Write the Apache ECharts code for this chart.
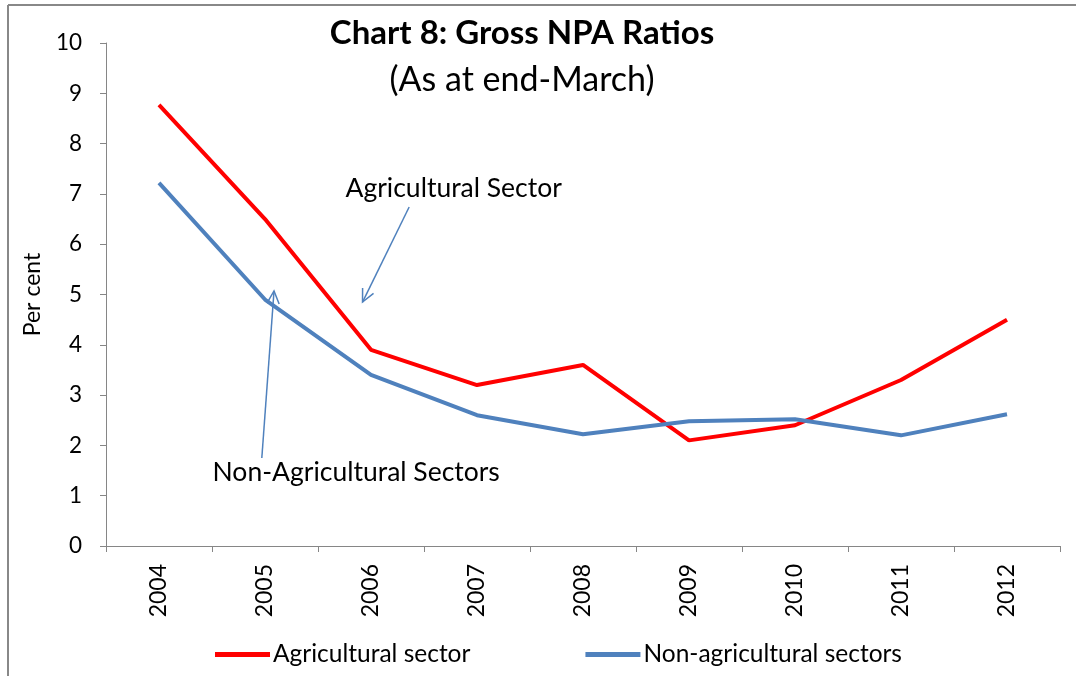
<!DOCTYPE html>
<html><head><meta charset="utf-8">
<script src="https://cdn.jsdelivr.net/npm/echarts@6/dist/echarts.min.js"></script>
<style>html,body{margin:0;padding:0;background:#fff;overflow:hidden}#c{width:1076px;height:676px}</style>
</head><body><div id="c"></div>
<script>
const years = ['2004','2005','2006','2007','2008','2009','2010','2011','2012'];
const agricultural = [8.77, 6.5, 3.9, 3.2, 3.6, 2.1, 2.4, 3.3, 4.5];
const nonAgricultural = [7.22, 4.9, 3.4, 2.6, 2.22, 2.48, 2.52, 2.2, 2.62];
const yTicks = [0,1,2,3,4,5,6,7,8,9,10];
// annotations in data coordinates [fractional category index, value]
const annotations = [
  {text:'Agricultural Sector', at:[2.78, 7.10], from:[2.36, 6.74], to:[1.92, 4.85]},
  {text:'Non-Agricultural Sectors', at:[1.86, 1.47], from:[0.97, 1.75], to:[1.085, 5.07]}
];
const FONT = 'Lato';
const chart = echarts.init(document.getElementById('c'));
chart.setOption({
  animation:false,
  backgroundColor:'#fff',
  textStyle:{fontFamily:FONT},
  title:{
    text:'Chart 8: Gross NPA Ratios',
    subtext:'(As at end-March)',
    left:522, top:15, textAlign:'center', itemGap:10, padding:0,
    textStyle:{fontFamily:FONT, fontWeight:'bold', fontSize:33, lineHeight:36, color:'#000'},
    subtextStyle:{fontFamily:FONT, fontSize:34, lineHeight:38, color:'#000'}
  },
  grid:{left:106, right:16, top:43, bottom:130, containLabel:false},
  xAxis:{
    type:'category', data:years, boundaryGap:true,
    axisLine:{lineStyle:{color:'#868686', width:1}},
    axisTick:{show:true, length:6, lineStyle:{color:'#868686'}},
    axisLabel:{rotate:90, margin:18, fontSize:23, color:'#000', fontFamily:FONT}
  },
  yAxis:{
    type:'value', min:yTicks[0], max:yTicks[yTicks.length-1], interval:1,
    name:'Per cent', nameLocation:'middle', nameGap:62, nameRotate:90,
    nameTextStyle:{fontSize:23, color:'#000', fontFamily:FONT},
    axisLine:{show:true, lineStyle:{color:'#868686'}},
    axisTick:{show:true, inside:false, length:6, lineStyle:{color:'#868686'}},
    splitLine:{show:false},
    axisLabel:{fontSize:22.5, color:'#000', margin:24, fontFamily:FONT}
  },
  legend:{
    left:215, top:642, padding:0, itemWidth:55, itemHeight:5, itemGap:115,
    icon:'rect',
    textStyle:{fontSize:24.5, color:'#000', fontFamily:FONT, padding:[0,0,0,-2]},
    data:['Agricultural sector','Non-agricultural sectors']
  },
  series:[
    {name:'Agricultural sector', type:'line', data:agricultural, symbol:'none',
     lineStyle:{color:'#FF0000', width:4}, itemStyle:{color:'#FF0000'}},
    {name:'Non-agricultural sectors', type:'line', data:nonAgricultural, symbol:'none',
     lineStyle:{color:'#4F81BD', width:4}, itemStyle:{color:'#4F81BD'}}
  ]
});
// interpolate fractional category positions from the axis' own pixel mapping
const p0 = chart.convertToPixel({gridIndex:0}, [0, 0]);
const p1 = chart.convertToPixel({gridIndex:0}, [1, 0]);
const step = p1[0] - p0[0];
const P = d => {
  const yv = chart.convertToPixel({yAxisIndex:0}, d[1]);
  return [p0[0] + d[0]*step, yv];
};
const g = [
  {type:'line', shape:{x1:8, y1:5, x2:1200, y2:5}, style:{stroke:'#888', lineWidth:2}, silent:true},
  {type:'line', shape:{x1:8, y1:5, x2:8, y2:1200}, style:{stroke:'#888', lineWidth:2}, silent:true}
];
annotations.forEach(a => {
  const p = P(a.at), s = P(a.from), e = P(a.to);
  g.push({type:'text', x:p[0], y:p[1], style:{text:a.text, fontFamily:FONT, fontSize:26.5, fill:'#000', align:'center', verticalAlign:'middle'}});
  g.push({type:'line', shape:{x1:s[0], y1:s[1], x2:e[0], y2:e[1]}, style:{stroke:'#4F81BD', lineWidth:1.5}});
  const ang = Math.atan2(e[1]-s[1], e[0]-s[0]);
  const L = 14, w = 0.45;
  const h1 = [e[0]-L*Math.cos(ang-w), e[1]-L*Math.sin(ang-w)];
  const h2 = [e[0]-L*Math.cos(ang+w), e[1]-L*Math.sin(ang+w)];
  g.push({type:'polyline', shape:{points:[h1, e, h2]}, style:{stroke:'#4F81BD', lineWidth:1.5, fill:'none'}});
});
chart.setOption({graphic:g});
</script>
</body></html>
